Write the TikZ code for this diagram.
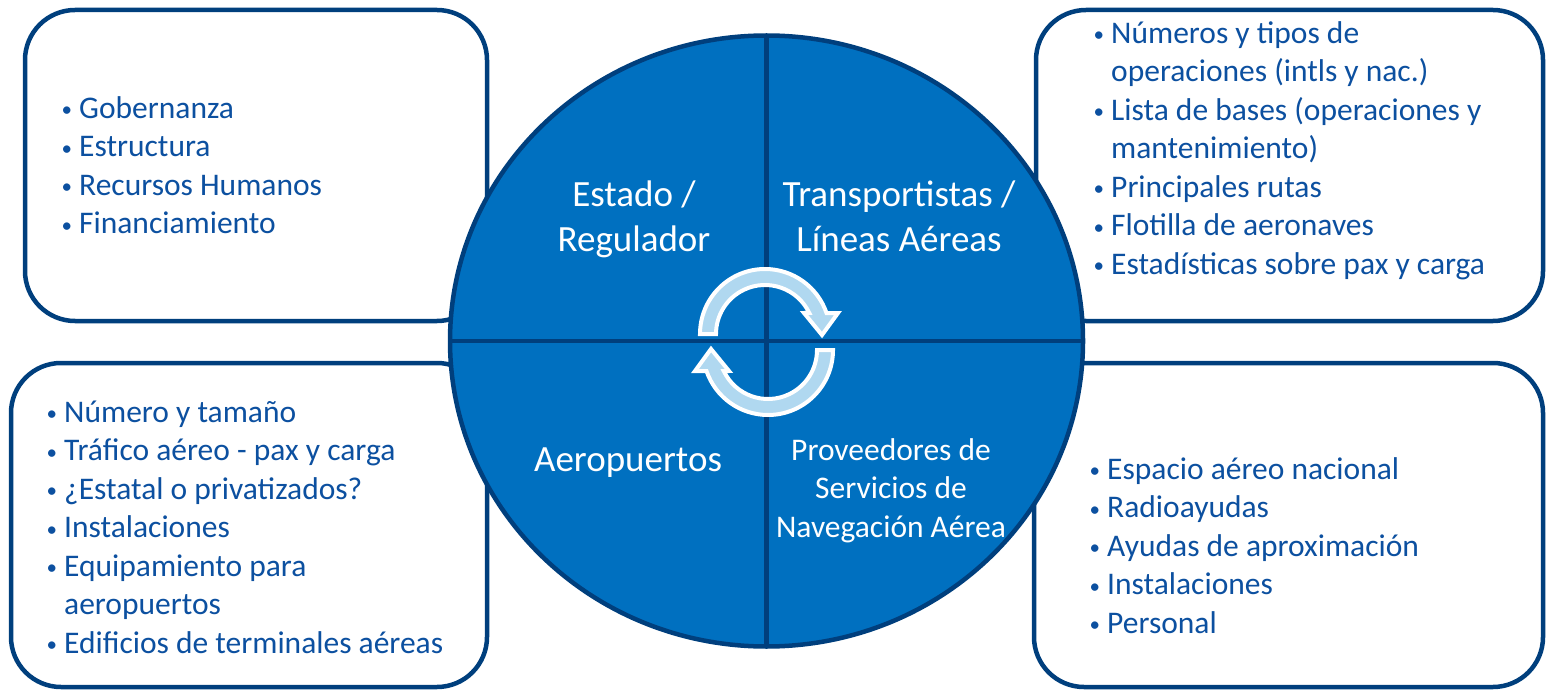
\documentclass[tikz,border=0pt]{standalone}
\usepackage{fontspec}
\setmainfont{Carlito}
\usetikzlibrary{shapes.geometric}

\definecolor{hubblue}{HTML}{0070C0}
\definecolor{rimblue}{HTML}{003F7D}
\definecolor{textblue}{HTML}{0C50A0}
\definecolor{arrowfill}{HTML}{B0D8F0}

\newcommand{\boxfont}{\fontsize{31.5}{38.5}\selectfont}
\newcommand{\quadfont}{\fontsize{37}{45}\selectfont}
\newcommand{\itm}{\makebox[19pt][l]{\hspace*{1.5pt}\raisebox{1.5pt}{\fontsize{21}{21}\selectfont\textbullet}}}
\newcommand{\ind}{\hspace*{19pt}}
% one half of the cycle symbol, centred on (0,0)
\newcommand{\cyclehalf}{(180:49) -- (180:65) arc[start angle=180,end angle=18.85,radius=65]
  -- (73,21) -- (57,-1) -- (39,21) -- (25.4:49) arc[start angle=25.4,end angle=180,radius=49] -- cycle}

\begin{document}
\begin{tikzpicture}[x=1pt,y=1pt,
    panel/.style={draw=rimblue,line width=4.5pt,rounded corners=50pt,fill=white,inner sep=0pt,outer sep=0pt},
    listtext/.style={text=textblue,font=\boxfont,align=left,anchor=north west,inner sep=0pt},
    quadtext/.style={text=white,align=center,inner sep=0pt},
    cyclearrow/.style={fill=arrowfill,draw=white,line width=4pt}]

    \useasboundingbox (0,0) rectangle (1546,689);

    % Panels behind the circle
    \node[panel,minimum width=462pt,minimum height=311pt] (govbox) at (256,523.5) {};
    \node[panel,minimum width=507pt,minimum height=311pt] (airbox) at (1289.5,523.5) {};
    \node[panel,minimum width=476pt,minimum height=324pt] (portbox) at (249,164) {};
    \node[panel,minimum width=509pt,minimum height=324pt] (navbox) at (1288.5,164) {};

    % Lists
    \node[listtext] (govlist) at (60,598) {\strut\itm Gobernanza\\ \itm Estructura\\
      \itm Recursos Humanos\\ \itm Financiamiento};
    \node[listtext] (airlist) at (1092,673) {\strut\itm Números y tipos de\\
      \ind operaciones (intls y nac.)\\ \itm Lista de bases (operaciones y\\
      \ind mantenimiento)\\ \itm Principales rutas\\ \itm Flotilla de aeronaves\\
      \itm Estadísticas sobre pax y carga};
    \node[listtext] (portlist) at (45,294) {\strut\itm Número y tamaño\\
      \itm Tráfico aéreo - pax y carga\\ \itm ¿Estatal o privatizados?\\
      \itm Instalaciones\\ \itm Equipamiento para\\ \ind aeropuertos\\
      \itm Edificios de terminales aéreas};
    \node[listtext] (navlist) at (1088,237) {\strut\itm Espacio aéreo nacional\\
      \itm Radioayudas\\ \itm Ayudas de aproximación\\ \itm Instalaciones\\
      \itm Personal};

    % Central circle and its quarters
    \node[ellipse,draw=rimblue,fill=hubblue,line width=4.5pt,minimum width=633pt,
      minimum height=611pt,inner sep=0pt,outer sep=0pt] (hub) at (766.5,348) {};
    \draw[rimblue,line width=4.5pt] (hub.north) -- (hub.south);
    \draw[rimblue,line width=4.5pt] (hub.west) -- (hub.east);

    % Cycle symbol
    \begin{scope}[shift={(765,355)}]
      \draw[cyclearrow] \cyclehalf;
    \end{scope}
    \begin{scope}[shift={(768,339)},rotate=180]
      \draw[cyclearrow] \cyclehalf;
    \end{scope}

    % Quarter labels
    \node[quadtext,font=\quadfont,anchor=north] (state) at (634,514.5) {\strut Estado /\\ Regulador};
    \node[quadtext,font=\quadfont,anchor=north] (carrier) at (899,514.5) {\strut Transportistas /\\ Líneas Aéreas};
    \node[quadtext,font=\quadfont,anchor=base] (airport) at (628,218) {Aeropuertos};
    \node[quadtext,font=\boxfont,anchor=north] (ansp) at (891,256) {\strut Proveedores de\\
      Servicios de\\ Navegación Aérea};

\end{tikzpicture}
\end{document}
